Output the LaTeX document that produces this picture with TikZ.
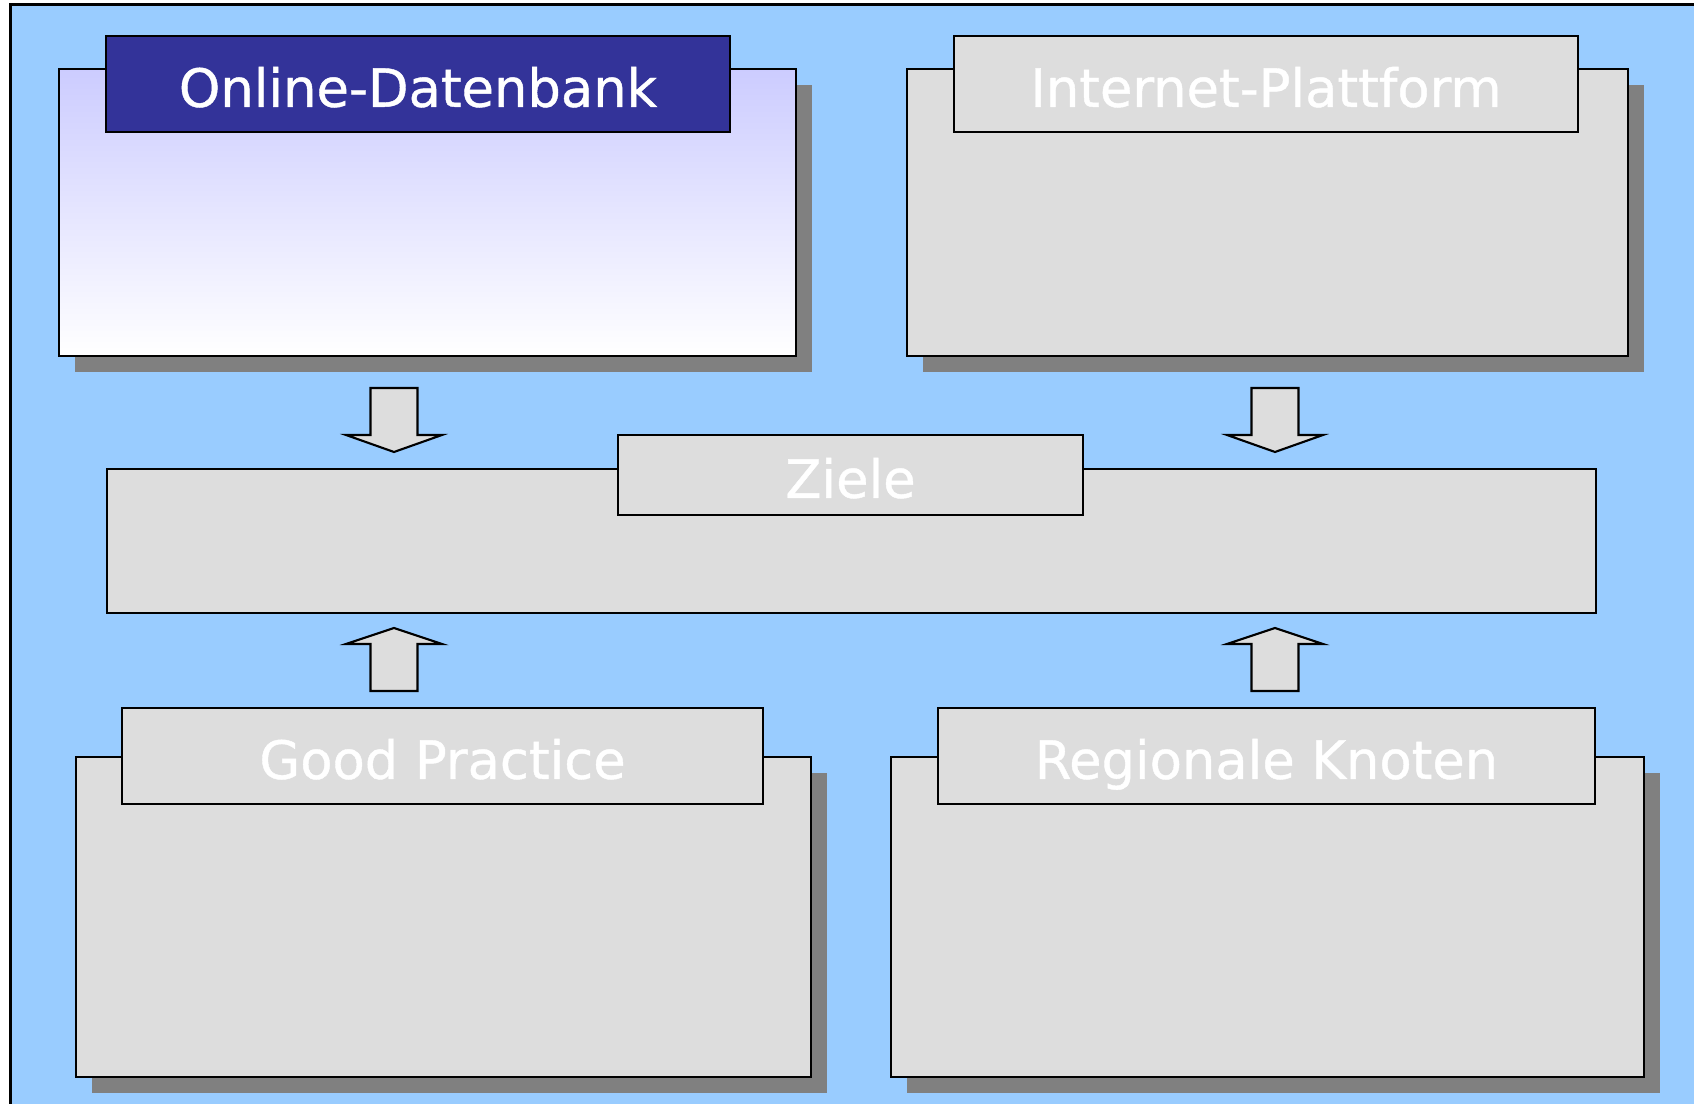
\documentclass[tikz,border=0pt]{standalone}
\usepackage{fontspec}
\newfontfamily\headfont[FakeBold=0.8]{DejaVu Sans}
\usetikzlibrary{shadows}

\definecolor{bgblue}{RGB}{153,204,255}
\definecolor{boxgray}{RGB}{221,221,221}
\definecolor{shadowgray}{RGB}{128,128,128}
\definecolor{navy}{RGB}{51,51,153}
\definecolor{lavender}{RGB}{204,204,255}

\tikzset{
  plainpanel/.style={draw,line width=0.6pt,fill=boxgray,anchor=north west,inner sep=0pt},
  panel/.style={plainpanel,
    drop shadow={shadow xshift=0.16cm,shadow yshift=-0.16cm,opacity=1,fill=shadowgray}},
  header/.style={draw,line width=0.6pt,fill=boxgray,text=white,inner sep=0pt,
    text height=13.5pt,text depth=0.5pt,font=\headfont\fontsize{15}{18}\selectfont},
  blockarrow/.style={draw,line width=0.6pt,fill=boxgray,line join=miter}
}

\begin{document}
\begin{tikzpicture}
\useasboundingbox (0,0) rectangle (16.94,-11.04);
\fill[bgblue] (0.105,-0.045) rectangle (16.94,-11.04);
\draw[line width=0.6pt] (0.105,-11.04) -- (0.105,-0.045) -- (16.94,-0.045);

% big panels
\node[panel,top color=lavender,bottom color=white,minimum width=7.37cm,minimum height=2.87cm] (db) at (0.58,-0.68) {};
\foreach \n/\x/\y/\w/\h in {ip/9.06/-0.68/7.21/2.87, gp/0.75/-7.56/7.35/3.20, rk/8.90/-7.56/7.53/3.20}
  \node[panel,minimum width=\w cm,minimum height=\h cm] (\n) at (\x,\y) {};
\node[plainpanel,minimum width=14.89cm,minimum height=1.44cm] (ziele) at (1.06,-4.68) {};

% headers
\node[header,fill=navy,minimum width=6.24cm,minimum height=0.96cm] (db-head) at (4.18,-0.84) {Online-Datenbank};
\foreach \n/\x/\y/\w/\t in {ip/12.66/-0.84/6.24/Internet-Plattform, gp/4.425/-7.56/6.41/Good Practice, rk/12.665/-7.56/6.57/Regionale Knoten}
  \node[header,minimum height=0.96cm,minimum width=\w cm] (\n-head) at (\x,\y) {\t};
\node[header,minimum width=4.65cm,minimum height=0.80cm] (ziele-head) at (8.505,-4.75) {Ziele};

% block arrows
\foreach \x in {3.94, 12.75} {
  \draw[blockarrow] (\x-0.235,-3.88) -- (\x+0.235,-3.88) -- (\x+0.235,-4.35) -- (\x+0.48,-4.35)
    -- (\x,-4.52) -- (\x-0.48,-4.35) -- (\x-0.235,-4.35) -- cycle;
  \draw[blockarrow] (\x-0.235,-6.91) -- (\x+0.235,-6.91) -- (\x+0.235,-6.44) -- (\x+0.48,-6.44)
    -- (\x,-6.28) -- (\x-0.48,-6.44) -- (\x-0.235,-6.44) -- cycle;
}
\end{tikzpicture}
\end{document}
